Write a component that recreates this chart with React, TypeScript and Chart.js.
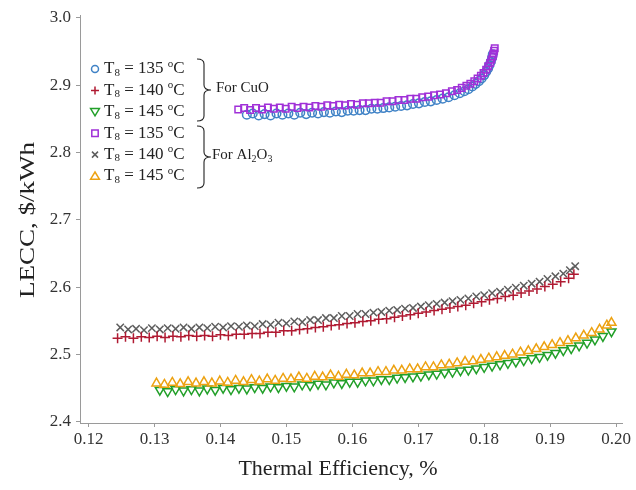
import React, { useEffect, useRef } from "react";
import { Chart, registerables } from "chart.js";

Chart.register(...registerables);

// ---------- DATA ----------
const xTicks = [0.12, 0.13, 0.14, 0.15, 0.16, 0.17, 0.18, 0.19, 0.2];
const yTicks = [2.4, 2.5, 2.6, 2.7, 2.8, 2.9, 3.0];
const xTitle = "Thermal Efficiency, %";
const yTitle = "LECC, $/kWh";

// CuO, T8 = 135 °C
const cuo135X = [0.144, 0.1449, 0.1458, 0.1467, 0.1476, 0.1485, 0.1494, 0.1503, 0.1512, 0.1521, 0.153, 0.1539, 0.1548, 0.1557, 0.1566, 0.1575, 0.1584, 0.1593, 0.1602, 0.1611, 0.162, 0.1629, 0.1638, 0.1647, 0.1656, 0.1665, 0.1674, 0.1683, 0.1692, 0.1701, 0.171, 0.1719, 0.1728, 0.1737, 0.1746, 0.1755, 0.1763, 0.177, 0.1776, 0.1782, 0.1787, 0.1792, 0.1796, 0.18, 0.1803, 0.1806, 0.1808, 0.181, 0.1812, 0.1813];
const cuo135Y = [2.856, 2.858, 2.855, 2.857, 2.855, 2.858, 2.856, 2.858, 2.856, 2.859, 2.857, 2.859, 2.858, 2.86, 2.859, 2.861, 2.86, 2.862, 2.862, 2.863, 2.863, 2.865, 2.865, 2.866, 2.867, 2.868, 2.869, 2.87, 2.872, 2.873, 2.875, 2.876, 2.878, 2.88, 2.882, 2.885, 2.888, 2.891, 2.894, 2.898, 2.902, 2.906, 2.91, 2.915, 2.92, 2.925, 2.93, 2.935, 2.941, 2.946];

// CuO, T8 = 140 °C
const cuo140X = [0.1244, 0.1256, 0.1268, 0.128, 0.1292, 0.1304, 0.1316, 0.1328, 0.134, 0.1352, 0.1364, 0.1376, 0.1388, 0.14, 0.1412, 0.1424, 0.1436, 0.1448, 0.146, 0.1472, 0.1484, 0.1496, 0.1508, 0.152, 0.1532, 0.1544, 0.1556, 0.1568, 0.158, 0.1592, 0.1604, 0.1616, 0.1628, 0.164, 0.1652, 0.1664, 0.1676, 0.1688, 0.17, 0.1712, 0.1724, 0.1736, 0.1748, 0.176, 0.1772, 0.1784, 0.1796, 0.1808, 0.182, 0.1832, 0.1844, 0.1856, 0.1868, 0.188, 0.1892, 0.1904, 0.1916, 0.1928, 0.1936];
const cuo140Y = [2.524, 2.526, 2.524, 2.526, 2.525, 2.527, 2.525, 2.527, 2.526, 2.528, 2.527, 2.528, 2.527, 2.529, 2.528, 2.53, 2.53, 2.531, 2.531, 2.533, 2.533, 2.535, 2.535, 2.537, 2.538, 2.54, 2.541, 2.543, 2.544, 2.546, 2.547, 2.549, 2.55, 2.552, 2.553, 2.555, 2.557, 2.559, 2.561, 2.563, 2.565, 2.567, 2.569, 2.571, 2.573, 2.576, 2.578, 2.581, 2.583, 2.586, 2.588, 2.591, 2.594, 2.597, 2.601, 2.604, 2.608, 2.613, 2.619];

// CuO, T8 = 145 °C
const cuo145X = [0.1308, 0.132, 0.1332, 0.1344, 0.1356, 0.1368, 0.138, 0.1392, 0.1404, 0.1416, 0.1428, 0.144, 0.1452, 0.1464, 0.1476, 0.1488, 0.15, 0.1512, 0.1524, 0.1536, 0.1548, 0.156, 0.1572, 0.1584, 0.1596, 0.1608, 0.162, 0.1632, 0.1644, 0.1656, 0.1668, 0.168, 0.1692, 0.1704, 0.1716, 0.1728, 0.174, 0.1752, 0.1764, 0.1776, 0.1788, 0.18, 0.1812, 0.1824, 0.1836, 0.1848, 0.186, 0.1872, 0.1884, 0.1896, 0.1908, 0.192, 0.1932, 0.1944, 0.1956, 0.1968, 0.198, 0.1993];
const cuo145Y = [2.447, 2.445, 2.448, 2.446, 2.448, 2.446, 2.449, 2.447, 2.45, 2.448, 2.45, 2.449, 2.451, 2.45, 2.452, 2.451, 2.453, 2.452, 2.455, 2.454, 2.456, 2.455, 2.458, 2.457, 2.459, 2.459, 2.461, 2.461, 2.463, 2.463, 2.465, 2.466, 2.467, 2.468, 2.47, 2.471, 2.473, 2.474, 2.476, 2.477, 2.479, 2.481, 2.483, 2.485, 2.487, 2.489, 2.491, 2.494, 2.496, 2.499, 2.502, 2.506, 2.509, 2.513, 2.517, 2.522, 2.527, 2.534];

// Al2O3, T8 = 135 °C
const al135X = [0.1427, 0.1436, 0.1445, 0.1454, 0.1463, 0.1472, 0.1481, 0.149, 0.1499, 0.1508, 0.1517, 0.1526, 0.1535, 0.1544, 0.1553, 0.1562, 0.1571, 0.158, 0.1589, 0.1598, 0.1607, 0.1616, 0.1625, 0.1634, 0.1643, 0.1652, 0.1661, 0.167, 0.1679, 0.1688, 0.1697, 0.1706, 0.1715, 0.1724, 0.1733, 0.1742, 0.1751, 0.1759, 0.1766, 0.1773, 0.1779, 0.1785, 0.179, 0.1795, 0.1799, 0.1803, 0.1806, 0.1809, 0.1811, 0.1813, 0.1814, 0.1815, 0.1816];
const al135Y = [2.864, 2.866, 2.863, 2.866, 2.864, 2.867, 2.865, 2.867, 2.865, 2.868, 2.866, 2.868, 2.867, 2.869, 2.868, 2.87, 2.869, 2.871, 2.87, 2.872, 2.871, 2.873, 2.873, 2.874, 2.874, 2.876, 2.876, 2.878, 2.878, 2.88, 2.88, 2.882, 2.883, 2.885, 2.886, 2.888, 2.891, 2.893, 2.896, 2.899, 2.902, 2.906, 2.91, 2.914, 2.918, 2.923, 2.928, 2.933, 2.938, 2.943, 2.947, 2.951, 2.955];

// Al2O3, T8 = 140 °C
const al140X = [0.1248, 0.126, 0.1272, 0.1284, 0.1296, 0.1308, 0.132, 0.1332, 0.1344, 0.1356, 0.1368, 0.138, 0.1392, 0.1404, 0.1416, 0.1428, 0.144, 0.1452, 0.1464, 0.1476, 0.1488, 0.15, 0.1512, 0.1524, 0.1536, 0.1548, 0.156, 0.1572, 0.1584, 0.1596, 0.1608, 0.162, 0.1632, 0.1644, 0.1656, 0.1668, 0.168, 0.1692, 0.1704, 0.1716, 0.1728, 0.174, 0.1752, 0.1764, 0.1776, 0.1788, 0.18, 0.1812, 0.1824, 0.1836, 0.1848, 0.186, 0.1872, 0.1884, 0.1896, 0.1908, 0.192, 0.193, 0.1938];
const al140Y = [2.54, 2.537, 2.538, 2.536, 2.539, 2.537, 2.539, 2.538, 2.54, 2.538, 2.54, 2.539, 2.541, 2.54, 2.542, 2.541, 2.543, 2.542, 2.545, 2.544, 2.547, 2.546, 2.549, 2.548, 2.551, 2.551, 2.554, 2.554, 2.557, 2.557, 2.56, 2.56, 2.562, 2.563, 2.565, 2.566, 2.568, 2.569, 2.571, 2.573, 2.575, 2.577, 2.579, 2.581, 2.583, 2.586, 2.588, 2.591, 2.593, 2.596, 2.599, 2.602, 2.605, 2.608, 2.612, 2.616, 2.62, 2.625, 2.631];

// Al2O3, T8 = 145 °C
const al145X = [0.1303, 0.1315, 0.1327, 0.1339, 0.1351, 0.1363, 0.1375, 0.1387, 0.1399, 0.1411, 0.1423, 0.1435, 0.1447, 0.1459, 0.1471, 0.1483, 0.1495, 0.1507, 0.1519, 0.1531, 0.1543, 0.1555, 0.1567, 0.1579, 0.1591, 0.1603, 0.1615, 0.1627, 0.1639, 0.1651, 0.1663, 0.1675, 0.1687, 0.1699, 0.1711, 0.1723, 0.1735, 0.1747, 0.1759, 0.1771, 0.1783, 0.1795, 0.1807, 0.1819, 0.1831, 0.1843, 0.1855, 0.1867, 0.1879, 0.1891, 0.1903, 0.1915, 0.1927, 0.1939, 0.1951, 0.1963, 0.1975, 0.1986, 0.1993];
const al145Y = [2.457, 2.455, 2.458, 2.456, 2.459, 2.457, 2.459, 2.457, 2.46, 2.458, 2.461, 2.459, 2.462, 2.46, 2.463, 2.461, 2.464, 2.463, 2.466, 2.464, 2.467, 2.466, 2.469, 2.467, 2.47, 2.469, 2.472, 2.472, 2.474, 2.474, 2.476, 2.476, 2.478, 2.478, 2.481, 2.481, 2.484, 2.485, 2.487, 2.489, 2.49, 2.492, 2.494, 2.496, 2.498, 2.5, 2.503, 2.505, 2.508, 2.511, 2.514, 2.517, 2.52, 2.524, 2.528, 2.532, 2.537, 2.543, 2.547];

const legendTemps = [135, 140, 145, 135, 140, 145];
const groupLabels = ["CuO", "Al2O3"];

// ---------- STYLE ----------
const FONT = '"Liberation Serif", "Times New Roman", serif';
const COLORS = ["#3f82c6", "#b01a32", "#23a02a", "#a030d8", "#5e5e5e", "#eda212"];
const STYLES = ["circle", "cross", "triangleDown", "rect", "crossRot", "triangle"];
const RADII = [4.3, 5, 5.2, 4.6, 5.2, 5.2];

const pts = (xs: number[], ys: number[]) => xs.map((x, i) => ({ x, y: ys[i] }));

function drawMarker(ctx: CanvasRenderingContext2D, style: string, x: number, y: number, color: string) {
  const r = 4;
  ctx.save();
  ctx.strokeStyle = color;
  ctx.lineWidth = 1.5;
  ctx.beginPath();
  if (style === "circle") {
    ctx.arc(x, y, r - 0.5, 0, Math.PI * 2);
  } else if (style === "cross") {
    ctx.moveTo(x - r, y); ctx.lineTo(x + r, y);
    ctx.moveTo(x, y - r); ctx.lineTo(x, y + r);
  } else if (style === "crossRot") {
    const d = r * 0.75;
    ctx.moveTo(x - d, y - d); ctx.lineTo(x + d, y + d);
    ctx.moveTo(x + d, y - d); ctx.lineTo(x - d, y + d);
  } else if (style === "rect") {
    ctx.rect(x - r + 0.8, y - r + 0.8, 2 * r - 1.6, 2 * r - 1.6);
  } else if (style === "triangle") {
    ctx.moveTo(x, y - r); ctx.lineTo(x + r * 1.1, y + r * 0.8); ctx.lineTo(x - r * 1.1, y + r * 0.8); ctx.closePath();
  } else if (style === "triangleDown") {
    ctx.moveTo(x, y + r); ctx.lineTo(x + r * 1.1, y - r * 0.8); ctx.lineTo(x - r * 1.1, y - r * 0.8); ctx.closePath();
  }
  ctx.stroke();
  ctx.restore();
}

function drawTempLabel(ctx: CanvasRenderingContext2D, x: number, y: number, t: number) {
  ctx.save();
  ctx.fillStyle = "#222";
  ctx.textBaseline = "middle";
  ctx.textAlign = "left";
  let cx = x;
  ctx.font = `17px ${FONT}`;
  ctx.fillText("T", cx, y); cx += ctx.measureText("T").width;
  ctx.font = `11px ${FONT}`;
  ctx.fillText("8", cx, y + 4); cx += ctx.measureText("8").width;
  ctx.font = `17px ${FONT}`;
  const mid = ` = ${t} `;
  ctx.fillText(mid, cx, y); cx += ctx.measureText(mid).width;
  ctx.font = `11px ${FONT}`;
  ctx.fillText("o", cx, y - 5); cx += ctx.measureText("o").width;
  ctx.font = `17px ${FONT}`;
  ctx.fillText("C", cx, y);
  ctx.restore();
}

function drawBrace(ctx: CanvasRenderingContext2D, x: number, yTop: number, yBot: number, w: number) {
  const ym = (yTop + yBot) / 2;
  const sx = x + w / 2;
  const r = 5;
  ctx.save();
  ctx.strokeStyle = "#222";
  ctx.lineWidth = 1.1;
  ctx.beginPath();
  ctx.moveTo(x, yTop);
  ctx.quadraticCurveTo(sx, yTop, sx, yTop + r);
  ctx.lineTo(sx, ym - r);
  ctx.quadraticCurveTo(sx, ym, x + w, ym);
  ctx.quadraticCurveTo(sx, ym, sx, ym + r);
  ctx.lineTo(sx, yBot - r);
  ctx.quadraticCurveTo(sx, yBot, x, yBot);
  ctx.stroke();
  ctx.restore();
}

function drawGroupLabel(ctx: CanvasRenderingContext2D, x: number, y: number, label: string) {
  ctx.save();
  ctx.fillStyle = "#222";
  ctx.textBaseline = "middle";
  ctx.textAlign = "left";
  let cx = x;
  const parts: [string, boolean][] = [["For ", false]];
  const re = /(\d+)|(\D+)/g;
  let m: RegExpExecArray | null;
  while ((m = re.exec(label))) parts.push([m[0], !!m[1]]);
  for (const [txt, sub] of parts) {
    ctx.font = sub ? `10px ${FONT}` : `15px ${FONT}`;
    ctx.fillText(txt, cx, sub ? y + 4 : y);
    cx += ctx.measureText(txt).width;
  }
  ctx.restore();
}

const overlayPlugin = {
  id: "overlay",
  afterDraw(chart: any) {
    const ctx = chart.ctx as CanvasRenderingContext2D;
    // legend
    const y0 = 69;
    const dy = 21.4;
    legendTemps.forEach((t, i) => {
      const y = y0 + i * dy;
      drawMarker(ctx, STYLES[i], 95, y, COLORS[i]);
      drawTempLabel(ctx, 104, y, t);
    });
    drawBrace(ctx, 197, 59, 121, 14);
    drawGroupLabel(ctx, 216, 88, groupLabels[0]);
    drawBrace(ctx, 197, 126, 188, 14);
    drawGroupLabel(ctx, 212, 155, groupLabels[1]);

    // axis titles
    ctx.save();
    ctx.fillStyle = "#222";
    ctx.textAlign = "center";
    ctx.textBaseline = "middle";
    ctx.font = `22px ${FONT}`;
    ctx.fillText(xTitle, 338, 469);
    ctx.translate(28, 220);
    ctx.rotate(-Math.PI / 2);
    const w = ctx.measureText(yTitle).width;
    ctx.scale(156 / w, 1);
    ctx.fillText(yTitle, 0, 0);
    ctx.restore();
  },
};

const seriesX = [cuo135X, cuo140X, cuo145X, al135X, al140X, al145X];
const seriesY = [cuo135Y, cuo140Y, cuo145Y, al135Y, al140Y, al145Y];
const seriesNames = ["CuO 135", "CuO 140", "CuO 145", "Al2O3 135", "Al2O3 140", "Al2O3 145"];
const drawOrder = [2, 1, 2, 1, 2, 1];

export default function App() {
  const ref = useRef<HTMLCanvasElement | null>(null);
  useEffect(() => {
    if (!ref.current) return;
    const datasets = seriesX.map((xs, i) => {
      const st = STYLES[i];
      return {
        label: seriesNames[i],
        data: pts(xs, seriesY[i]),
        showLine: false,
        pointStyle: st === "triangleDown" ? "triangle" : st,
        rotation: st === "triangleDown" ? 180 : 0,
        pointRadius: RADII[i],
        pointBorderWidth: 1.5,
        borderColor: COLORS[i],
        backgroundColor: "rgba(0,0,0,0)",
        pointBackgroundColor: "rgba(0,0,0,0)",
        order: drawOrder[i],
      };
    });
    const chart = new Chart(ref.current, {
      type: "scatter",
      data: { datasets: datasets as any },
      options: {
        animation: false,
        responsive: false,
        layout: { padding: { left: 0, top: 12, right: 14, bottom: 0 } },
        plugins: { legend: { display: false }, tooltip: { enabled: false } },
        scales: {
          x: {
            type: "linear",
            min: 0.1187,
            max: 0.2009,
            afterBuildTicks: (s: any) => { s.ticks = xTicks.map((v) => ({ value: v })); },
            afterFit: (s: any) => { s.height = 67; },
            grid: { display: true, drawOnChartArea: false, drawTicks: true, tickLength: 4, color: "#9a9a9a" },
            border: { display: true, color: "#9a9a9a", width: 1 },
            ticks: {
              color: "#333",
              font: { family: FONT, size: 17 },
              padding: 2,
              maxRotation: 0,
              callback: (v: any) => Number(v).toFixed(2),
            },
            title: { display: false },
          },
          y: {
            type: "linear",
            min: 2.398,
            max: 3.004,
            afterBuildTicks: (s: any) => { s.ticks = yTicks.map((v) => ({ value: v })); },
            afterFit: (s: any) => { s.width = 80; },
            grid: { display: true, drawOnChartArea: false, drawTicks: true, tickLength: 4, color: "#9a9a9a" },
            border: { display: true, color: "#9a9a9a", width: 1 },
            ticks: {
              color: "#333",
              font: { family: FONT, size: 17 },
              padding: 5,
              callback: (v: any) => Number(v).toFixed(1),
            },
            title: { display: false },
          },
        },
      },
      plugins: [overlayPlugin],
    });
    return () => chart.destroy();
  }, []);
  return (
    <div style={{ position: "fixed", left: 0, top: 0, width: 636, height: 490, background: "#fff" }}>
      <canvas ref={ref} width={636} height={490} />
    </div>
  );
}
